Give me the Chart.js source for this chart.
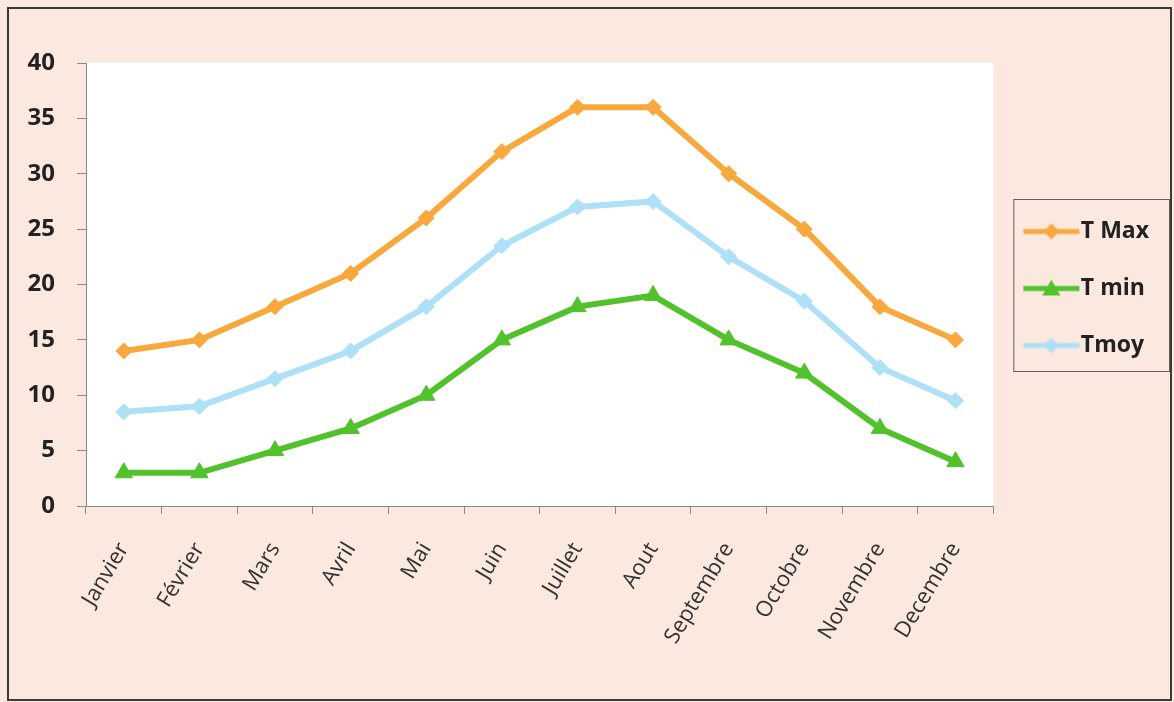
<!DOCTYPE html>
<html>
<head>
<meta charset="utf-8">
<script src="https://cdn.jsdelivr.net/npm/chart.js@4.4.1/dist/chart.umd.min.js"></script>
<style>
  html, body { margin: 0; padding: 0; background: #fbe8df; }
  #wrap { width: 1174px; height: 702px; position: relative; }
</style>
</head>
<body>
<div id="wrap"><canvas id="chart-temp"></canvas></div>
<script>
// Données
const mois = ['Janvier', 'Février', 'Mars', 'Avril', 'Mai', 'Juin', 'Juillet', 'Aout', 'Septembre', 'Octobre', 'Novembre', 'Decembre'];
const tMax = [14, 15, 18, 21, 26, 32, 36, 36, 30, 25, 18, 15];
const tMin = [3, 3, 5, 7, 10, 15, 18, 19, 15, 12, 7, 4];
const tMoy = [8.5, 9, 11.5, 14, 18, 23.5, 27, 27.5, 22.5, 18.5, 12.5, 9.5];
const yTicks = [0, 5, 10, 15, 20, 25, 30, 35, 40];

const COLORS = { max: '#f9a83d', min: '#52c22c', moy: '#aee0f8' };

// Icône de légende : trait + marqueur
function legendIcon(color, shape) {
  const c = document.createElement('canvas');
  c.width = 58; c.height = 22;
  const g = c.getContext('2d');
  g.strokeStyle = color; g.fillStyle = color; g.lineWidth = 5;
  g.beginPath(); g.moveTo(1, 11); g.lineTo(57, 11); g.stroke();
  g.beginPath();
  if (shape === 'triangle') {
    g.moveTo(29, 2); g.lineTo(38, 18); g.lineTo(20, 18);
  } else {
    g.moveTo(29, 3); g.lineTo(37, 11); g.lineTo(29, 19); g.lineTo(21, 11);
  }
  g.closePath(); g.fill();
  return c;
}

const fondPlugin = {
  id: 'fond',
  afterLayout(chart) {
    // la légende est centrée sur la zone de tracé, pas sur tout le canvas
    const lg = chart.legend, a = chart.chartArea;
    if (!lg) return;
    lg.top = a.top + 4; lg.bottom = a.bottom + 4; lg.height = a.bottom - a.top;
    lg.left += 6; lg.right += 6;
  },
  beforeDraw(chart) {
    const { ctx, chartArea: a } = chart;
    ctx.save();
    ctx.fillStyle = '#fbe8df';
    ctx.fillRect(0, 0, chart.width, chart.height);
    ctx.fillStyle = '#ffffff';
    ctx.fillRect(a.left, a.top, a.right - a.left, a.bottom - a.top);
    ctx.strokeStyle = '#3a3a3a';
    ctx.lineWidth = 2;
    ctx.strokeRect(8, 8, chart.width - 11, chart.height - 10);
    ctx.restore();
  },
  afterDraw(chart) {
    const hb = chart.legend && chart.legend.legendHitBoxes;
    if (!hb || !hb.length) return;
    const left = Math.min(...hb.map(h => h.left)) - 20;
    const top = Math.min(...hb.map(h => h.top)) - 21;
    const bottom = Math.max(...hb.map(h => h.top + h.height)) + 14;
    const right = chart.width - 5;
    const ctx = chart.ctx;
    ctx.save();
    ctx.strokeStyle = '#6a5a58';
    ctx.lineWidth = 1;
    ctx.strokeRect(left + 0.5, top + 0.5, right - left, bottom - top);
    ctx.restore();
  }
};

const icons = [legendIcon(COLORS.max, 'diamond'), legendIcon(COLORS.min, 'triangle'), legendIcon(COLORS.moy, 'diamond')];

new Chart(document.getElementById('chart-temp'), {
  type: 'line',
  data: {
    labels: mois,
    datasets: [
      { label: 'T Max', data: tMax, borderColor: COLORS.max, backgroundColor: COLORS.max, pointStyle: 'rectRot', pointRadius: 8 },
      { label: 'T min', data: tMin, borderColor: COLORS.min, backgroundColor: COLORS.min, pointStyle: 'triangle', pointRadius: 10 },
      { label: 'Tmoy', data: tMoy, borderColor: COLORS.moy, backgroundColor: COLORS.moy, pointStyle: 'rectRot', pointRadius: 8 }
    ]
  },
  options: {
    responsive: true,
    maintainAspectRatio: false,
    animation: false,
    layout: { padding: { top: 63, left: 0, right: 21, bottom: 0 } },
    elements: {
      line: { borderWidth: 6, tension: 0 },
      point: { borderWidth: 1, hoverRadius: 9 }
    },
    scales: {
      x: {
        offset: true,
        grid: { display: true, offset: true, drawOnChartArea: false, tickLength: 8, color: '#8a8a8a' },
        border: { color: '#8a8a8a', width: 1 },
        ticks: { minRotation: 59, maxRotation: 59, padding: 24, color: '#333', font: { family: 'Open Sans', size: 22 } },
        afterFit: (s) => { s.height = 196; }
      },
      y: {
        min: 0, max: 40,
        afterBuildTicks: (s) => { s.ticks = yTicks.map(v => ({ value: v })); },
        grid: { drawOnChartArea: false, tickLength: 9, color: '#8a8a8a' },
        border: { color: '#8a8a8a', width: 1 },
        ticks: { padding: 22, color: '#222', font: { family: 'Open Sans', size: 24, weight: 'bold' } },
        afterFit: (s) => { s.width = 86; }
      }
    },
    plugins: {
      legend: {
        position: 'right',
        align: 'center',
        labels: {
          usePointStyle: true,
          pointStyleWidth: 36,
          padding: 34,
          color: '#222',
          font: { family: 'Open Sans', size: 23, weight: 'bold' },
          generateLabels: (chart) => Chart.defaults.plugins.legend.labels.generateLabels(chart)
            .map((l, i) => Object.assign(l, { pointStyle: icons[i] }))
        }
      },
      tooltip: { enabled: false }
    }
  },
  plugins: [fondPlugin]
});
</script>
</body>
</html>
